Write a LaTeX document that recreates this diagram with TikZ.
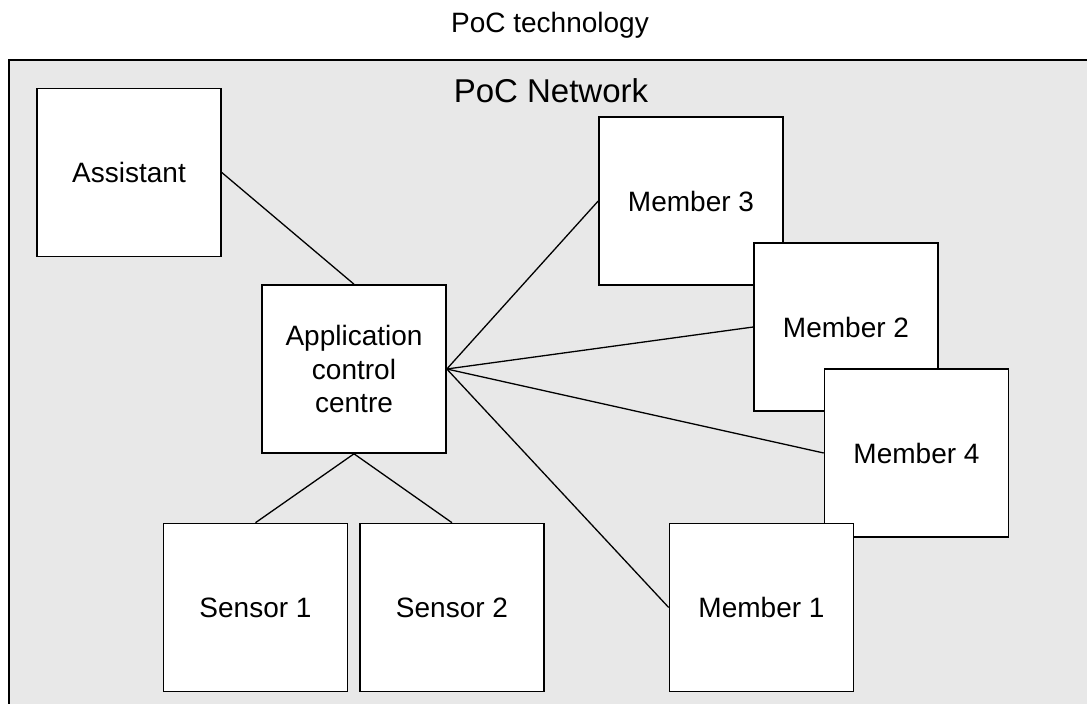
\documentclass[tikz,border=0pt]{standalone}
\usepackage{fontspec}
\setmainfont{Liberation Sans}
\definecolor{netgray}{RGB}{232,232,232}
\tikzset{
  box/.style={draw=black, fill=white, line width=1.6pt, minimum width=184pt, minimum height=168pt, inner sep=0pt, align=center, font=\fontsize{28}{33.5}\selectfont},
  link/.style={draw=black, line width=1.3pt},
}
\begin{document}
\begin{tikzpicture}[x=1pt,y=-1pt]
\useasboundingbox (0,0) rectangle (1087,704);
\begin{scope}
\clip (0,0) rectangle (1087,704);
\draw[fill=netgray, line width=1.8pt] (9,60) rectangle (1110,730);
\end{scope}
\node[anchor=base, font=\fontsize{28}{32}\selectfont] (title) at (550,32) {PoC technology};
\node[anchor=base, font=\fontsize{33}{38}\selectfont] (net) at (551,102) {PoC Network};

\node[box] (assist) at (129,172.5) {Assistant};
\node[box] (app) at (354,369) {Application\\control\\centre};
\node[box] (s1) at (255.5,607.5) {Sensor 1};
\node[box] (s2) at (452,607.5) {Sensor 2};
\node[box] (m3) at (691,201) {Member 3};
\node[box] (m2) at (846,327) {Member 2};
\node[box] (m4) at (916.5,453) {Member 4};
\node[box] (m1) at (761.5,607.5) {Member 1};

\draw[link] (assist.east) -- (app.north);
\draw[link] (app.east) -- (m3.west);
\draw[link] (app.east) -- (m2.west);
\draw[link] (app.east) -- (m4.west);
\draw[link] (app.east) -- (m1.west);
\draw[link] (app.south) -- (s1.north);
\draw[link] (app.south) -- (s2.north);
\end{tikzpicture}
\end{document}
